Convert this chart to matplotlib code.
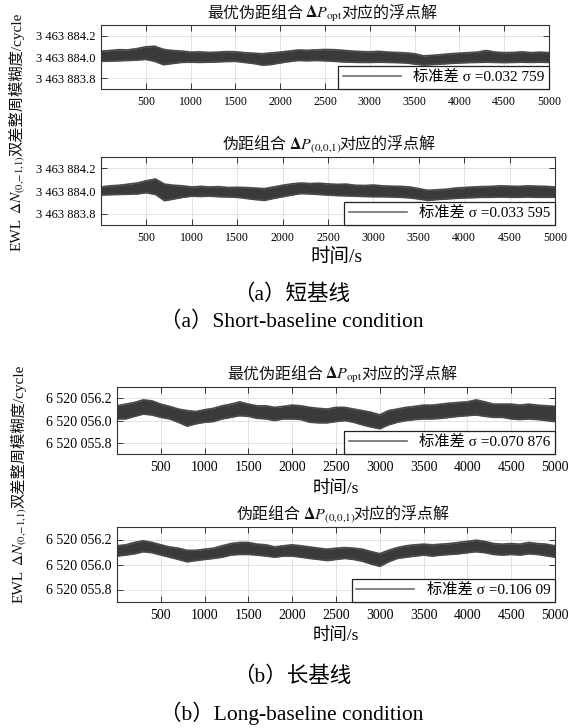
import numpy as np
import matplotlib
matplotlib.use('Agg')
import matplotlib.pyplot as plt
from matplotlib.lines import Line2D
from matplotlib.ticker import FixedLocator, FuncFormatter

FAM = ['Liberation Serif', 'Noto Sans CJK SC']
plt.rcParams['font.family'] = FAM
plt.rcParams['mathtext.fontset'] = 'stix'

W, H = 569, 728

# time axis (s), envelope read every 100 s
t = np.arange(0, 5001, 100)
x_ticks = [500, 1000, 1500, 2000, 2500, 3000, 3500, 4000, 4500, 5000]

# (a) short baseline, float ambiguity band (offset from base)
short_base = 3463884.0
short_yticks = [3463883.8, 3463884.0, 3463884.2]
short_ylim = (3463883.7, 3463884.3)

opt_short_hi = [0.054, 0.060, 0.068, 0.066, 0.078, 0.095, 0.100, 0.070, 0.060, 0.055,
                0.045, 0.048, 0.042, 0.045, 0.050, 0.048, 0.040, 0.035, 0.030, 0.038,
                0.045, 0.055, 0.065, 0.062, 0.066, 0.070, 0.068, 0.062, 0.055, 0.050,
                0.048, 0.052, 0.045, 0.042, 0.038, 0.030, 0.010, 0.015, 0.022, 0.030,
                0.035, 0.040, 0.045, 0.060, 0.045, 0.040, 0.042, 0.048, 0.040, 0.045, 0.040]
opt_short_lo = [-0.040, -0.038, -0.035, -0.032, -0.028, -0.022, -0.040, -0.072, -0.060, -0.050,
                -0.048, -0.050, -0.048, -0.045, -0.042, -0.040, -0.050, -0.060, -0.075, -0.070,
                -0.055, -0.042, -0.032, -0.035, -0.032, -0.035, -0.040, -0.045, -0.048, -0.050,
                -0.050, -0.048, -0.050, -0.052, -0.055, -0.065, -0.075, -0.070, -0.065, -0.060,
                -0.055, -0.052, -0.050, -0.048, -0.050, -0.052, -0.050, -0.048, -0.050, -0.048, -0.050]

p001_short_hi = [0.035, 0.045, 0.050, 0.060, 0.070, 0.090, 0.105, 0.060, 0.050, 0.045,
                 0.035, 0.040, 0.035, 0.038, 0.030, 0.032, 0.030, 0.025, 0.020, 0.035,
                 0.050, 0.062, 0.070, 0.065, 0.068, 0.062, 0.058, 0.060, 0.050, 0.048,
                 0.052, 0.045, 0.042, 0.040, 0.035, 0.020, 0.005, 0.010, 0.015, 0.025,
                 0.030, 0.035, 0.038, 0.040, 0.045, 0.042, 0.040, 0.045, 0.042, 0.040, 0.035]
p001_short_lo = [-0.035, -0.032, -0.030, -0.028, -0.025, -0.015, -0.030, -0.085, -0.070, -0.055,
                 -0.045, -0.048, -0.045, -0.050, -0.052, -0.055, -0.065, -0.075, -0.082, -0.065,
                 -0.050, -0.035, -0.022, -0.025, -0.030, -0.035, -0.040, -0.042, -0.045, -0.048,
                 -0.050, -0.050, -0.052, -0.055, -0.060, -0.070, -0.082, -0.075, -0.070, -0.065,
                 -0.060, -0.058, -0.055, -0.055, -0.052, -0.055, -0.055, -0.052, -0.055, -0.055, -0.055]

# (b) long baseline
long_base = 6520056.0
long_yticks = [6520055.8, 6520056.0, 6520056.2]
long_ylim = (6520055.7, 6520056.3)

opt_long_hi = [0.131, 0.146, 0.161, 0.184, 0.175, 0.146, 0.126, 0.102, 0.088, 0.079,
               0.096, 0.108, 0.131, 0.146, 0.166, 0.146, 0.131, 0.131, 0.117, 0.126,
               0.137, 0.131, 0.117, 0.108, 0.102, 0.117, 0.117, 0.102, 0.088, 0.073,
               0.050, 0.088, 0.102, 0.117, 0.126, 0.137, 0.137, 0.146, 0.155, 0.161,
               0.166, 0.184, 0.166, 0.146, 0.146, 0.146, 0.137, 0.146, 0.137, 0.131, 0.126]
opt_long_lo = [0.015, 0.015, 0.038, 0.058, 0.050, 0.029, 0.015, -0.015, -0.050, -0.029,
               -0.015, -0.009, 0.015, 0.029, 0.044, 0.038, 0.020, 0.015, 0.000, 0.015,
               0.015, 0.009, -0.015, -0.020, -0.020, -0.009, 0.000, -0.015, -0.038, -0.058,
               -0.073, -0.038, -0.015, 0.000, 0.009, 0.015, 0.015, 0.020, 0.029, 0.038,
               0.044, 0.050, 0.038, 0.029, 0.029, 0.015, 0.009, 0.015, 0.009, 0.000, -0.009]

p001_long_hi = [0.149, 0.157, 0.176, 0.189, 0.176, 0.157, 0.140, 0.130, 0.113, 0.113,
                0.122, 0.130, 0.149, 0.167, 0.176, 0.176, 0.162, 0.157, 0.140, 0.149,
                0.157, 0.149, 0.140, 0.130, 0.122, 0.130, 0.135, 0.130, 0.122, 0.103,
                0.086, 0.113, 0.135, 0.149, 0.157, 0.162, 0.157, 0.162, 0.167, 0.176,
                0.184, 0.194, 0.184, 0.167, 0.162, 0.167, 0.162, 0.176, 0.167, 0.162, 0.149]
p001_long_lo = [0.068, 0.076, 0.086, 0.103, 0.095, 0.076, 0.059, 0.041, 0.022, 0.032,
                0.041, 0.049, 0.059, 0.076, 0.081, 0.081, 0.076, 0.068, 0.059, 0.068,
                0.068, 0.059, 0.049, 0.041, 0.032, 0.041, 0.049, 0.041, 0.027, 0.005,
                -0.014, 0.022, 0.049, 0.059, 0.068, 0.076, 0.068, 0.076, 0.081, 0.086,
                0.095, 0.103, 0.095, 0.081, 0.076, 0.081, 0.076, 0.086, 0.081, 0.070, 0.059]

sigma_labels = ["0.032 759", "0.033 595", "0.070 876", "0.106 09"]

title_opt = "最优伪距组合"
title_001 = "伪距组合"
title_tail = "对应的浮点解"
sub_opt = r"$\mathbf{\Delta}\mathit{P}_{\mathrm{opt}}$"
sub_001 = r"$\mathbf{\Delta}\mathit{P}_{(0{,}0{,}1)}$"

fig = plt.figure(figsize=(W / 100, H / 100), dpi=100)
renderer = fig.canvas.get_renderer()


def px_axes(left, right, top, bottom):
    return fig.add_axes([left / W, 1 - bottom / H, (right - left) / W, (bottom - top) / H])


def rich_text(x, y, parts, rot=0):
    # x, y in pixels from the top-left; centre of the baseline
    items = []
    for s, size, gap in parts:
        tx = fig.text(0, 0, s, fontsize=size, rotation=rot, rotation_mode='anchor',
                      ha='left', va='baseline', color='#111111')
        ext = tx.get_window_extent(renderer)
        items.append((tx, gap, ext.height if rot else ext.width))
    total = sum(g + L for _, g, L in items)
    pos = -total / 2
    for tx, g, L in items:
        pos += g
        if rot:
            tx.set_position((x / W, 1 - (y - pos) / H))
        else:
            tx.set_position(((x + pos) / W, 1 - y / H))
        pos += L


def panel(box, base, hi, lo, ylim, yticks, sigma, tick_size_x, tick_size_y):
    ax = px_axes(*box)
    lo_v = base + np.array(lo)
    hi_v = base + np.array(hi)
    ax.fill_between(t, lo_v, hi_v, color='#3a3a3a', lw=0)
    ax.plot(t, hi_v, color='#4a4a4a', lw=1.3)
    ax.plot(t, lo_v, color='#4a4a4a', lw=1.3)
    ax.set_xlim(0, 5000)
    ax.set_ylim(*ylim)
    ax.xaxis.set_major_locator(FixedLocator(x_ticks))
    ax.yaxis.set_major_locator(FixedLocator(yticks))
    ax.yaxis.set_major_formatter(FuncFormatter(lambda v, p: f"{v:,.1f}".replace(",", " ")))
    ax.grid(True, color='#dddddd', lw=0.6)
    ax.set_axisbelow(True)
    ax.tick_params(direction='in', top=True, right=True, length=4, width=0.7,
                   color='#333333', pad=5)
    ax.tick_params(axis='x', labelsize=tick_size_x)
    ax.tick_params(axis='y', labelsize=tick_size_y, pad=4)
    for sp in ax.spines.values():
        sp.set_color('#333333')
        sp.set_linewidth(0.8)
    proxy = Line2D([], [], color='#707070', lw=1.2)
    leg = ax.legend([proxy], ["标准差 σ =" + sigma], loc='lower right', borderaxespad=0,
                    fancybox=False, framealpha=1, edgecolor='#222222', fontsize=11,
                    handlelength=3.8, handletextpad=0.8, borderpad=0.3)
    leg.get_frame().set_linewidth(0.9)
    return ax


panel((101, 549, 25, 89), short_base, opt_short_hi, opt_short_lo, short_ylim, short_yticks,
      sigma_labels[0], 8.5, 9)
panel((101, 555, 157, 225), short_base, p001_short_hi, p001_short_lo, short_ylim, short_yticks,
      sigma_labels[1], 8.5, 9)
panel((117, 555, 387, 454), long_base, opt_long_hi, opt_long_lo, long_ylim, long_yticks,
      sigma_labels[2], 10, 10)
panel((117, 555, 527, 602), long_base, p001_long_hi, p001_long_lo, long_ylim, long_yticks,
      sigma_labels[3], 10, 10)

# panel titles
rich_text(322, 18, [(title_opt, 11.5, 0), (sub_opt, 11.5, 2), (title_tail, 11.5, -2)])
rich_text(329, 149, [(title_001, 11.5, 0), (sub_001, 11.5, 2), (title_tail, 11.5, -2)])
rich_text(342, 379, [(title_opt, 11.5, 0), (sub_opt, 11.5, 2), (title_tail, 11.5, -2)])
rich_text(343, 519, [(title_001, 11.5, 0), (sub_001, 11.5, 2), (title_tail, 11.5, -2)])

# y labels
ylab = [("EWL", 11, 0), (r"$\Delta N_{(0{,}{-}1{,}1)}$", 11, 4), ("双差整周模糊度/cycle", 11, -1)]
rich_text(21, 132, ylab, rot=90)
rich_text(23, 484, ylab, rot=90)

# x labels
fig.text(336 / W, 1 - 257 / H, "时间/s", fontsize=14, ha='center', va='center')
fig.text(336 / W, 1 - 489 / H, "时间/s", fontsize=12.5, ha='center', va='center')
fig.text(336 / W, 1 - 636 / H, "时间/s", fontsize=12.5, ha='center', va='center')

# captions
fig.text(292 / W, 1 - 295 / H, "（a）短基线", fontsize=15.5, ha='center', va='center')
fig.text(292 / W, 1 - 322 / H, "（a）Short-baseline condition", fontsize=15.5, ha='center', va='center')
fig.text(292 / W, 1 - 677 / H, "（b）长基线", fontsize=15.5, ha='center', va='center')
fig.text(292 / W, 1 - 713 / H, "（b）Long-baseline condition", fontsize=15.5, ha='center', va='center')

fig.savefig('out.png', dpi=100)
